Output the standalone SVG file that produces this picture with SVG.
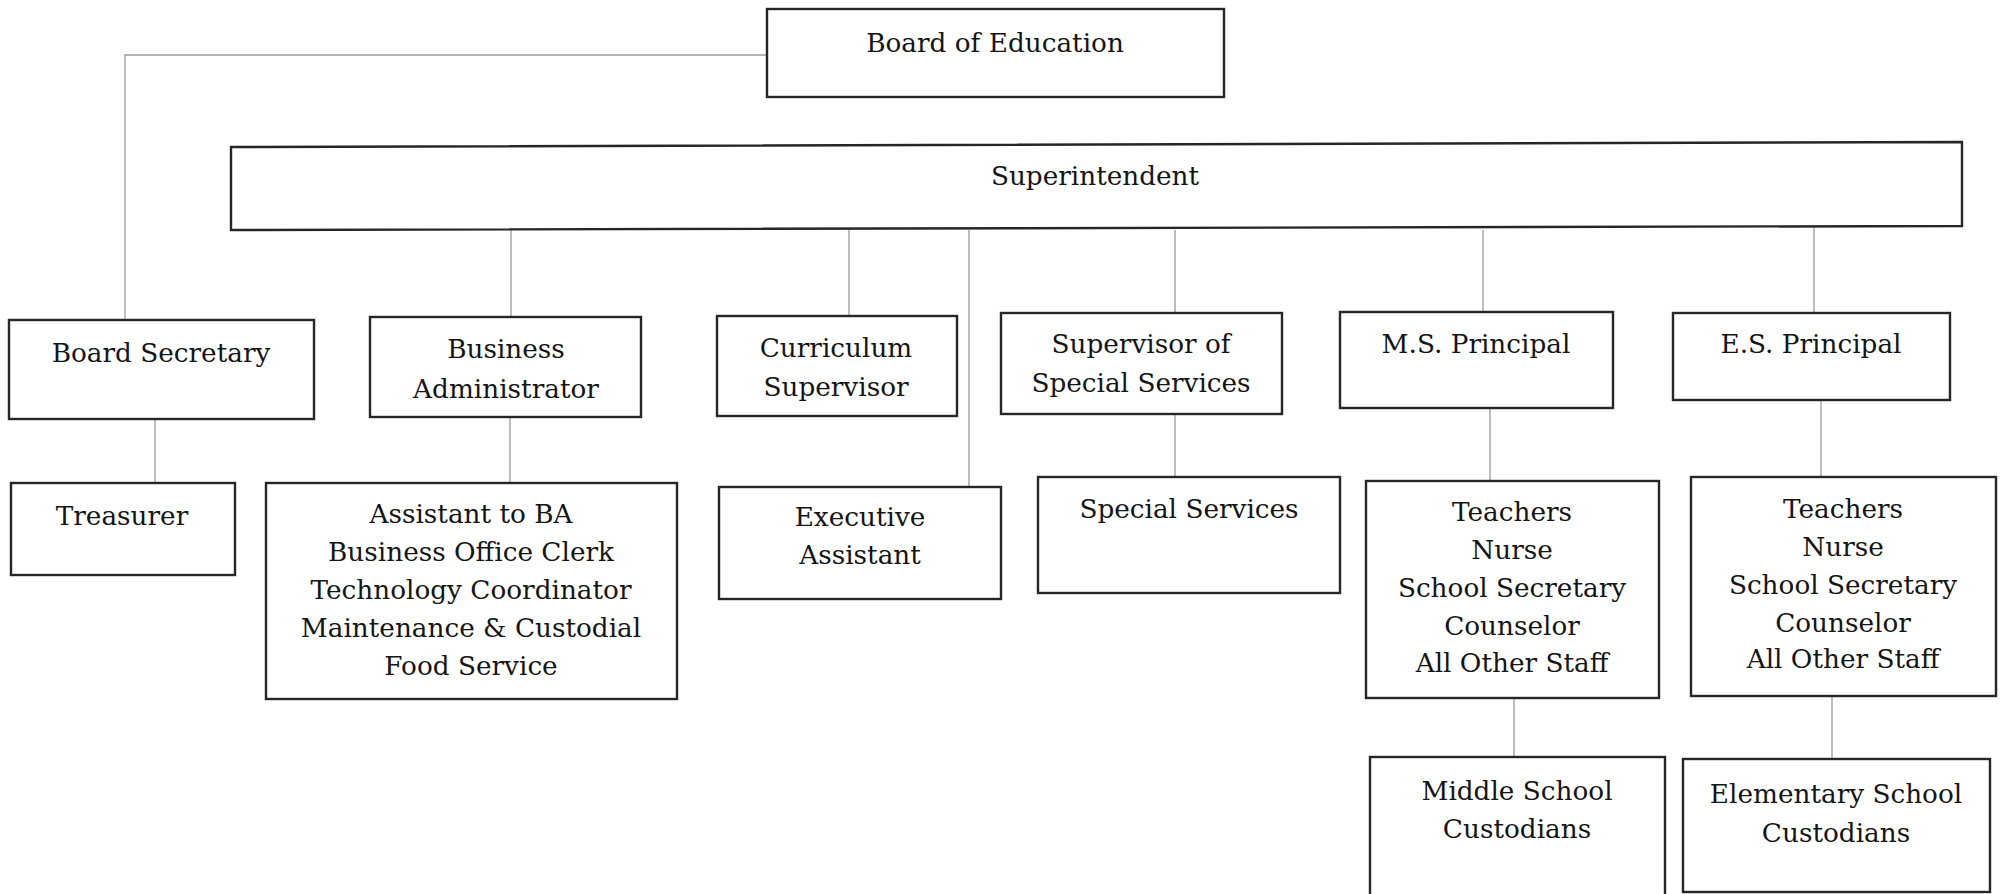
<svg xmlns="http://www.w3.org/2000/svg" width="2004" height="894" viewBox="0 0 2004 894">
  <style>
    .box { fill: #ffffff; stroke: #262626; stroke-width: 2.4; }
    .lbl { font-family: "DejaVu Serif", "Liberation Serif", serif; font-size: 26.3px; fill: #151515; text-anchor: middle; }
    .link { fill: none; stroke: #9a9a9a; stroke-width: 1.3; }
  </style>
  <rect width="2004" height="894" fill="#ffffff"/>

  <!-- reporting lines -->
  <g id="connectors">
    <polyline class="link" points="767,55 125,55 125,320"/>
    <line class="link" x1="155" y1="419" x2="155" y2="483"/>
    <line class="link" x1="511" y1="230" x2="511" y2="317"/>
    <line class="link" x1="510" y1="417" x2="510" y2="483"/>
    <line class="link" x1="849" y1="230" x2="849" y2="316"/>
    <line class="link" x1="969" y1="230" x2="969" y2="487"/>
    <line class="link" x1="1175" y1="230" x2="1175" y2="313"/>
    <line class="link" x1="1175" y1="414" x2="1175" y2="477"/>
    <line class="link" x1="1483" y1="230" x2="1483" y2="312"/>
    <line class="link" x1="1490" y1="408" x2="1490" y2="481"/>
    <line class="link" x1="1814" y1="226" x2="1814" y2="313"/>
    <line class="link" x1="1821" y1="400" x2="1821" y2="477"/>
    <line class="link" x1="1514" y1="698" x2="1514" y2="757"/>
    <line class="link" x1="1832" y1="696" x2="1832" y2="759"/>
  </g>

  <g id="board-of-education">
    <rect class="box" x="767" y="9" width="457" height="88"/>
    <text class="lbl" x="995" y="52">Board of Education</text>
  </g>

  <g id="superintendent">
    <polygon class="box" points="231,147 1962,142 1962,226 231,230"/>
    <text class="lbl" x="1095" y="185">Superintendent</text>
  </g>

  <g id="board-secretary">
    <rect class="box" x="9" y="320" width="305" height="99"/>
    <text class="lbl" x="161" y="362">Board Secretary</text>
  </g>

  <g id="treasurer">
    <rect class="box" x="11" y="483" width="224" height="92"/>
    <text class="lbl" x="122" y="525">Treasurer</text>
  </g>

  <g id="business-administrator">
    <rect class="box" x="370" y="317" width="271" height="100"/>
    <text class="lbl" x="506" y="358">Business</text>
    <text class="lbl" x="506" y="398">Administrator</text>
  </g>

  <g id="business-staff">
    <rect class="box" x="266" y="483" width="411" height="216"/>
    <text class="lbl" x="471" y="523">Assistant to BA</text>
    <text class="lbl" x="471" y="561">Business Office Clerk</text>
    <text class="lbl" x="471" y="599">Technology Coordinator</text>
    <text class="lbl" x="471" y="637">Maintenance &amp; Custodial</text>
    <text class="lbl" x="471" y="675">Food Service</text>
  </g>

  <g id="curriculum-supervisor">
    <rect class="box" x="717" y="316" width="240" height="100"/>
    <text class="lbl" x="836" y="357">Curriculum</text>
    <text class="lbl" x="836" y="396">Supervisor</text>
  </g>

  <g id="executive-assistant">
    <rect class="box" x="719" y="487" width="282" height="112"/>
    <text class="lbl" x="860" y="526">Executive</text>
    <text class="lbl" x="860" y="564">Assistant</text>
  </g>

  <g id="supervisor-special-services">
    <rect class="box" x="1001" y="313" width="281" height="101"/>
    <text class="lbl" x="1141" y="353">Supervisor of</text>
    <text class="lbl" x="1141" y="392">Special Services</text>
  </g>

  <g id="special-services">
    <rect class="box" x="1038" y="477" width="302" height="116"/>
    <text class="lbl" x="1189" y="518">Special Services</text>
  </g>

  <g id="ms-principal">
    <rect class="box" x="1340" y="312" width="273" height="96"/>
    <text class="lbl" x="1476" y="353">M.S. Principal</text>
  </g>

  <g id="ms-staff">
    <rect class="box" x="1366" y="481" width="293" height="217"/>
    <text class="lbl" x="1512" y="521">Teachers</text>
    <text class="lbl" x="1512" y="559">Nurse</text>
    <text class="lbl" x="1512" y="597">School Secretary</text>
    <text class="lbl" x="1512" y="635">Counselor</text>
    <text class="lbl" x="1512" y="672">All Other Staff</text>
  </g>

  <g id="ms-custodians">
    <rect class="box" x="1370" y="757" width="295" height="150"/>
    <text class="lbl" x="1517" y="800">Middle School</text>
    <text class="lbl" x="1517" y="838">Custodians</text>
  </g>

  <g id="es-principal">
    <rect class="box" x="1673" y="313" width="277" height="87"/>
    <text class="lbl" x="1811" y="353">E.S. Principal</text>
  </g>

  <g id="es-staff">
    <rect class="box" x="1691" y="477" width="305" height="219"/>
    <text class="lbl" x="1843" y="518">Teachers</text>
    <text class="lbl" x="1843" y="556">Nurse</text>
    <text class="lbl" x="1843" y="594">School Secretary</text>
    <text class="lbl" x="1843" y="632">Counselor</text>
    <text class="lbl" x="1843" y="668">All Other Staff</text>
  </g>

  <g id="es-custodians">
    <rect class="box" x="1683" y="759" width="307" height="133"/>
    <text class="lbl" x="1836" y="803">Elementary School</text>
    <text class="lbl" x="1836" y="842">Custodians</text>
  </g>
</svg>
